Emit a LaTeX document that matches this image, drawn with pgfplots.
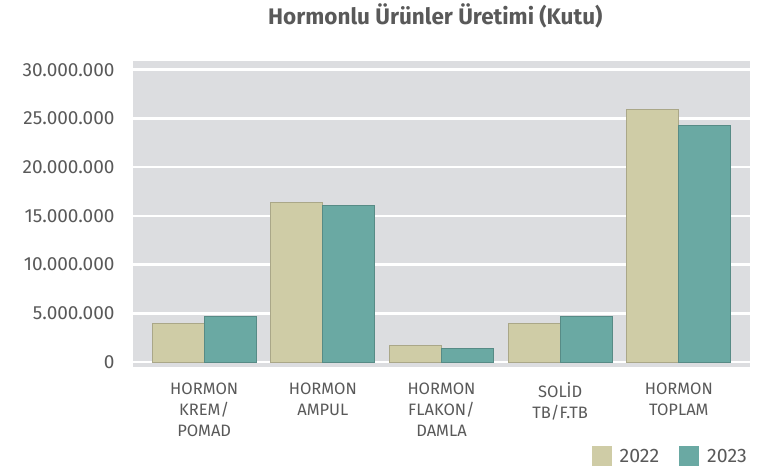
\documentclass[border=0pt]{standalone}
\usepackage{fontspec}
\setmainfont{Fira Sans}
\usepackage{pgfplots}
\pgfplotsset{compat=1.18}
\definecolor{bg}{HTML}{DCDDE0}
\definecolor{c22}{HTML}{CFCCA6}
\definecolor{c23}{HTML}{6AA9A3}
\definecolor{txt}{HTML}{595959}
\begin{document}
\begin{tikzpicture}
\path[use as bounding box] (-133pt,-103pt) rectangle (624pt,367pt);
\begin{axis}[
  at={(0pt,0pt)}, anchor=south west,
  scale only axis, width=617pt, height=306pt,
  xmin=-0.6, xmax=4.6,
  ymin=-510000, ymax=30890000,
  ybar=0pt, bar width=52pt,
  axis background/.style={fill=bg},
  axis line style={draw=none},
  major tick length=0pt,
  ymajorgrids, grid style={white, line width=2.5pt},
  ytick={0,5000000,10000000,15000000,20000000,25000000,30000000},
  scaled y ticks=false,
  /pgf/number format/.cd, fixed, precision=0, 1000 sep={.}, assume math mode=true,
  /pgfplots/.cd,
  yticklabel style={font=\fontsize{19}{22}\selectfont, text=txt, xshift=-15pt},
  xtick={0,1,2,3,4},
  xticklabels={{HORMON\\KREM/\\POMAD},{HORMON\\AMPUL},{HORMON\\FLAKON/\\DAMLA},{SOLİD\\TB/F.TB},{HORMON\\TOPLAM}},
  xticklabel style={font=\fontsize{16.5}{21}\selectfont, text=txt, align=center, yshift=-12pt},
  title={Hormonlu Ürünler Üretimi (Kutu)},
  title style={font=\bfseries\fontsize{22.5}{26}\selectfont, text=txt, at={(rel axis cs:0.49,1)}, anchor=base, yshift=30pt},
  legend columns=2,
  legend style={draw=none, fill=none, at={(rel axis cs:1,0)}, anchor=north east, yshift=-77pt, xshift=2pt,
    font=\fontsize{19.5}{22}\selectfont, text=txt,
    /tikz/every odd column/.append style={column sep=6pt},
    /tikz/every even column/.append style={column sep=18pt}},
  legend image code/.code={\path[#1, draw=none] (0pt,-10pt) rectangle (20pt,10pt);},
]
\addplot[fill=c22, draw=c22!82!black, line width=0.8pt] coordinates {(0,4000000) (1,16360000) (2,1700000) (3,4000000) (4,25900000)};
\addplot[fill=c23, draw=c23!82!black, line width=0.8pt] coordinates {(0,4700000) (1,16050000) (2,1400000) (3,4700000) (4,24250000)};
\legend{2022,2023}
\end{axis}
\end{tikzpicture}
\end{document}
